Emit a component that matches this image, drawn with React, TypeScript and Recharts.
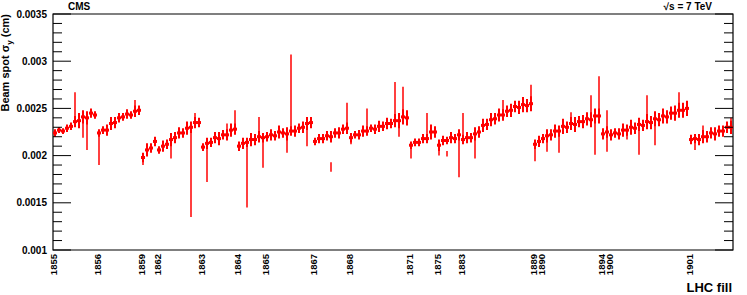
import { ScatterChart, Scatter, XAxis, YAxis, ErrorBar, ReferenceArea } from "recharts";

// LHC fill numbers, in the order they were recorded
const fills = ["1855", "1856", "1859", "1862", "1863", "1864", "1865", "1867", "1868", "1871", "1875", "1883", "1889", "1890", "1894", "1900", "1901"];

// beam spot sigma_y per block of lumisections, in um (1e-4 cm), and its error
const s1855 = [22.4, 22.7, 22.6, 22.9, 23.1, 23.6, 23.7, 24.1, 24.0, 24.5, 24.3];
const e1855 = [0.4, 0.3, 0.3, 0.4, 0.4, 0.6, 0.8, 0.7, 0.7, 0.5, 0.4];
const s1856 = [22.4, 22.7, 22.7, 23.4, 23.5, 24.0, 24.1, 24.4, 24.3, 24.7, 24.8];
const e1856 = [0.4, 0.4, 0.6, 0.7, 0.6, 0.5, 0.4, 0.5, 0.4, 0.6, 0.5];
const s1859 = [19.8, 20.6, 20.8, 21.5];
const e1859 = [0.5, 0.7, 0.5, 0.5];
const s1862 = [20.6, 21.0, 21.2, 21.7, 21.9, 22.4, 22.4, 22.9, 23.0, 23.5, 23.5];
const e1862 = [0.4, 0.6, 0.5, 0.7, 0.6, 0.6, 0.5, 0.7, 0.6, 0.6, 0.5];
const s1863 = [20.9, 21.3, 21.4, 21.9, 21.8, 22.2, 22.2, 22.7, 22.8];
const e1863 = [0.4, 0.6, 0.5, 0.6, 0.7, 0.5, 0.6, 0.7, 0.6];
const s1864 = [21.0, 21.3, 21.4, 21.7, 21.7, 22.0, 21.9];
const e1864 = [0.5, 0.6, 0.5, 0.7, 0.6, 0.6, 0.5];
const s1865 = [22.0, 22.2, 22.1, 22.5, 22.4, 22.3, 22.6, 22.6, 22.9, 23.0, 23.4, 23.5];
const e1865 = [0.5, 0.6, 0.5, 0.7, 0.5, 0.7, 0.5, 0.6, 0.5, 0.6, 0.7, 0.6];
const s1867 = [21.5, 21.8, 21.8, 22.1, 22.0, 22.4, 22.4, 22.8, 22.9];
const e1867 = [0.4, 0.5, 0.5, 0.5, 0.6, 0.5, 0.6, 0.5, 0.6];
const s1868 = [21.9, 22.2, 22.2, 22.6, 22.6, 22.9, 22.8, 23.1, 23.1, 23.4, 23.4, 23.7, 23.7, 24.1, 24.0];
const e1868 = [0.5, 0.4, 0.5, 0.6, 0.5, 0.4, 0.5, 0.6, 0.5, 0.6, 0.5, 0.7, 0.8, 0.8, 0.8];
const s1871 = [21.1, 21.4, 21.4, 21.8, 21.8, 22.5, 22.5];
const e1871 = [0.4, 0.4, 0.4, 0.5, 0.5, 0.8, 0.6];
const s1875 = [21.1, 21.6, 21.6, 21.9, 21.8, 22.2];
const e1875 = [0.6, 0.5, 0.4, 0.6, 0.5, 0.6];
const s1883 = [21.7, 21.9, 21.9, 22.3, 22.5, 23.2, 23.3, 23.8, 23.9, 24.3, 24.3, 24.7, 24.8, 25.2, 25.1, 25.4, 25.3, 25.5];
const e1883 = [0.5, 0.6, 0.5, 0.7, 0.6, 0.7, 0.6, 0.7, 0.6, 0.7, 0.6, 0.6, 0.7, 0.6, 0.7, 0.8, 0.7, 0.8];
const s1889 = [21.2, 21.5];
const e1889 = [0.5, 0.6];
const s1890 = [21.8, 22.1, 22.2, 22.6, 22.6, 23.1, 23.0, 23.4, 23.3, 23.6, 23.6, 23.9, 23.8, 24.2, 24.2];
const e1890 = [0.5, 0.7, 0.6, 0.7, 0.6, 0.8, 0.6, 0.7, 0.8, 0.6, 0.7, 0.7, 0.8, 0.8, 0.8];
const s1894 = [22.3, 22.5];
const e1894 = [0.6, 0.6];
const s1900 = [22.2, 22.4, 22.3, 22.7, 22.7, 23.0, 22.9, 23.3, 23.2, 23.6, 23.5, 23.9, 23.8, 24.2, 24.1, 24.5, 24.5, 24.8, 24.8, 25.0];
const e1900 = [0.6, 0.5, 0.6, 0.7, 0.6, 0.8, 0.6, 0.7, 0.6, 0.8, 0.7, 0.8, 0.7, 0.8, 0.7, 0.7, 0.8, 0.8, 0.8, 0.8];
const s1901 = [21.7, 21.8, 21.7, 22.0, 22.0, 22.4, 22.3, 22.6, 22.6, 23.0, 23.0];
const e1901 = [0.5, 0.5, 0.6, 0.7, 0.6, 0.6, 0.7, 0.6, 0.6, 0.6, 0.7];

const sigmas = [s1855, s1856, s1859, s1862, s1863, s1864, s1865, s1867, s1868, s1871, s1875, s1883, s1889, s1890, s1894, s1900, s1901];
const errors = [e1855, e1856, e1859, e1862, e1863, e1864, e1865, e1867, e1868, e1871, e1875, e1883, e1889, e1890, e1894, e1900, e1901];

// single lumisections far off the trend: [fill index, block in fill, low um, high um]
const outliers = [
  [0, 5, 23.5, 26.7], [0, 7, 21.9, 24.0], [0, 8, 20.6, 24.2],
  [1, 0, 19.0, 22.5], [1, 9, 24.6, 25.9],
  [2, 0, 19.0, 19.8],
  [3, 3, 19.7, 21.6], [3, 8, 13.5, 23.1], [3, 9, 23.4, 24.5],
  [4, 1, 17.2, 21.2], [4, 6, 22.3, 23.4], [4, 8, 22.9, 24.8],
  [5, 2, 14.5, 21.5], [5, 5, 21.9, 24.1], [5, 6, 18.7, 22.0],
  [6, 5, 20.3, 22.3], [6, 6, 22.5, 30.7], [6, 10, 21.0, 23.3],
  [7, 4, 18.3, 19.3], [7, 8, 22.9, 25.6],
  [8, 0, 21.2, 21.9], [8, 4, 22.7, 25.0], [8, 11, 23.6, 27.8], [8, 12, 22.0, 23.8], [8, 13, 24.0, 27.3],
  [9, 0, 19.7, 21.1], [9, 4, 21.9, 24.5],
  [10, 0, 20.0, 21.2], [10, 2, 19.9, 20.5], [10, 5, 17.7, 22.1],
  [11, 0, 21.7, 24.5], [11, 3, 19.7, 22.2], [11, 10, 24.4, 25.9], [11, 17, 25.5, 27.5],
  [12, 0, 19.4, 21.2],
  [13, 1, 20.4, 22.0], [13, 4, 20.3, 22.7], [13, 7, 23.3, 24.6], [13, 12, 23.9, 26.4], [13, 13, 20.1, 24.1], [13, 14, 24.3, 28.4],
  [14, 1, 22.4, 24.8], [14, 1, 20.4, 22.4],
  [15, 4, 21.7, 22.8], [15, 7, 20.1, 23.2], [15, 9, 23.5, 26.4], [15, 11, 21.1, 23.8], [15, 17, 24.7, 26.7],
  [16, 1, 20.6, 21.7], [16, 3, 21.9, 23.2], [16, 10, 23.1, 24.0],
];

const yLabels = ["0.001", "0.0015", "0.002", "0.0025", "0.003", "0.0035"];

const Y_MIN = 0.001;
const Y_MAX = 0.0035;
const UM = 1e-4; // um -> cm
const RED = "#ff0000";
const FONT = "'Liberation Sans', Arial, Helvetica, sans-serif";
const PLOT_W = 680;

// fill boundaries in lumi-block units
const starts: number[] = [];
let total = 0;
sigmas.forEach((s) => {
  starts.push(total);
  total += s.length;
});

const points = sigmas.flatMap((s, f) =>
  s.map((v, i) => ({ x: starts[f] + i + 0.5, y: v * UM, err: errors[f][i] * UM }))
);

const spikes = outliers.map(([f, i, lo, hi]) => ({
  x: starts[f] + i + 0.5,
  y: ((lo + hi) / 2) * UM,
  err: ((hi - lo) / 2) * UM,
}));

// minor ticks every 0.0001, major every 0.0005
const yTicks = Array.from({ length: 26 }, (_, i) => (10 + i) / 10000);

const BinMark = (p: any) => (
  <line x1={p.cx - 2} x2={p.cx + 2} y1={p.cy} y2={p.cy} stroke={RED} strokeWidth={3} />
);

const NoMark = () => <g />;

const YTick = (p: any) => {
  const { x, y, payload } = p;
  const k = Math.round(payload.value * 10000);
  const major = k % 5 === 0;
  const len = major ? 18 : 9;
  return (
    <g>
      <line x1={x} x2={x + len} y1={y} y2={y} stroke="#000" strokeWidth={1} />
      <line x1={x + PLOT_W - len} x2={x + PLOT_W} y1={y} y2={y} stroke="#000" strokeWidth={1} />
      {major && (
        <text x={x - 6} y={y} dy="0.35em" textAnchor="end" fontFamily={FONT} fontWeight="bold" fontSize={10} fill="#000">
          {yLabels[(k - 10) / 5]}
        </text>
      )}
    </g>
  );
};

const XTick = (p: any) => {
  const { x, y, payload } = p;
  const idx = starts.indexOf(payload.value);
  const tx = x + 3.5;
  const ty = y + 4;
  return (
    <text
      x={tx}
      y={ty}
      transform={`rotate(-90, ${tx}, ${ty})`}
      textAnchor="end"
      fontFamily={FONT}
      fontWeight="bold"
      fontSize={9.5}
      fill="#000"
    >
      {fills[idx]}
    </text>
  );
};

export default function App() {
  return (
    <div style={{ position: "relative", width: 747, height: 295, background: "#fff" }}>
      <style>{"body{margin:0}"}</style>
      <ScatterChart width={747} height={295} margin={{ top: 14, right: 14, left: 0, bottom: 0 }}>
        <XAxis
          dataKey="x"
          type="number"
          domain={[0, total]}
          ticks={starts}
          interval={0}
          tick={<XTick />}
          tickLine={false}
          axisLine={false}
          tickSize={0}
          tickMargin={0}
          height={45}
          allowDataOverflow
        />
        <YAxis
          dataKey="y"
          type="number"
          domain={[Y_MIN, Y_MAX]}
          ticks={yTicks}
          interval={0}
          tick={<YTick />}
          tickLine={false}
          axisLine={false}
          tickSize={0}
          tickMargin={0}
          width={53}
          allowDataOverflow
        />
        <ReferenceArea x1={0} x2={total} y1={Y_MIN} y2={Y_MAX} fill="none" stroke="#000" strokeWidth={1.2} />
        <Scatter data={points} shape={BinMark} isAnimationActive={false}>
          <ErrorBar dataKey="err" direction="y" width={0} stroke={RED} strokeWidth={2} isAnimationActive={false} />
        </Scatter>
        <Scatter data={spikes} shape={NoMark} isAnimationActive={false}>
          <ErrorBar dataKey="err" direction="y" width={0} stroke={RED} strokeWidth={1.5} isAnimationActive={false} />
        </Scatter>
      </ScatterChart>
      <svg width={747} height={295} style={{ position: "absolute", left: 0, top: 0, pointerEvents: "none" }}>
        <text x={68} y={10} fontFamily={FONT} fontWeight="bold" fontSize={10} fill="#000">
          CMS
        </text>
        <text x={712} y={10} textAnchor="end" fontFamily={FONT} fontWeight="bold" fontSize={10} fill="#000">
          √s = 7 TeV
        </text>
        <text x={732} y={292} textAnchor="end" fontFamily={FONT} fontWeight="bold" fontSize={13} fill="#000">
          LHC fill
        </text>
        <text
          x={9}
          y={14}
          transform="rotate(-90, 9, 14)"
          textAnchor="end"
          fontFamily={FONT}
          fontWeight="bold"
          fontSize={11}
          fill="#000"
        >
          Beam spot σ
          <tspan dy={3} fontSize={8}>y</tspan>
          <tspan dy={-3}> (cm)</tspan>
        </text>
      </svg>
    </div>
  );
}
